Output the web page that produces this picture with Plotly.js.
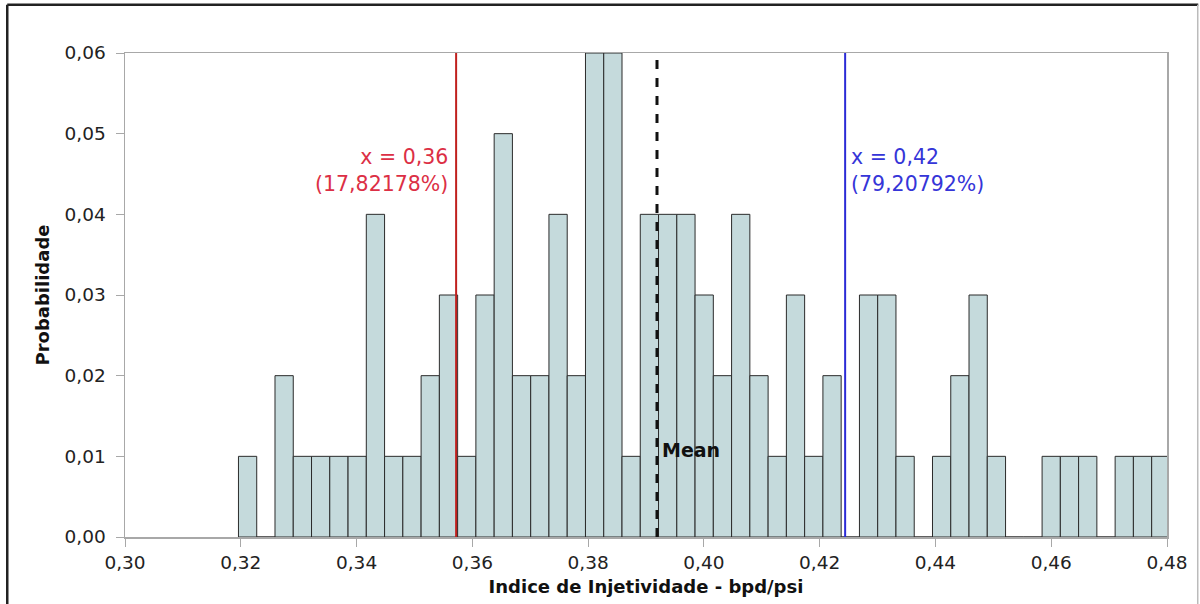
<!DOCTYPE html>
<html>
<head>
<meta charset="utf-8">
<script src="https://cdn.plot.ly/plotly-3.0.1.min.js"></script>
<style>html,body{margin:0;padding:0;background:#fff;}#chart{width:1200px;height:604px;}</style>
</head>
<body>
<div id="chart"></div>
<script>
// Histogram bins
const binStart = 0.3196;
const binWidth = 0.003155;
const probabilities = [
  0.01, 0.00, 0.02, 0.01, 0.01, 0.01, 0.01, 0.04, 0.01, 0.01,
  0.02, 0.03, 0.01, 0.03, 0.05, 0.02, 0.02, 0.04, 0.02, 0.06,
  0.06, 0.01, 0.04, 0.04, 0.04, 0.03, 0.02, 0.04, 0.02, 0.01,
  0.03, 0.01, 0.02, 0.00, 0.03, 0.03, 0.01, 0.00, 0.01, 0.02,
  0.03, 0.01, 0.00, 0.00, 0.01, 0.01, 0.01, 0.00, 0.01, 0.01,
  0.01
];
const markerNames = ["lower", "mean", "upper"];
const markerValues = [0.3572, 0.3919, 0.4244];
const lowerLabel = ["x = 0,36", "(17,82178%)"];
const upperLabel = ["x = 0,42", "(79,20792%)"];
const meanLabel = "Mean";
const xTicks = [0.30, 0.32, 0.34, 0.36, 0.38, 0.40, 0.42, 0.44, 0.46, 0.48];
const yTicks = [0.00, 0.01, 0.02, 0.03, 0.04, 0.05, 0.06];
const xTitle = "Indice de Injetividade - bpd/psi";
const yTitle = "Probabilidade";

const centers = probabilities.map((_, i) => binStart + binWidth * (i + 0.5));

const FONT = "DejaVu Sans, Liberation Sans, Arial, sans-serif";

const trace = {
  type: "bar",
  x: centers,
  y: probabilities,
  width: binWidth,
  marker: { color: "#c5dadc", line: { color: "#2b2b2b", width: 1 } },
  hoverinfo: "x+y"
};

const [lowerX, meanX, upperX] = markerValues;

const layout = {
  width: 1200,
  height: 604,
  margin: { l: 125, r: 33, t: 53, b: 67 },
  paper_bgcolor: "#ffffff",
  plot_bgcolor: "#ffffff",
  separators: ",.",
  showlegend: false,
  font: { family: FONT, size: 18, color: "#222" },
  xaxis: {
    range: [0.30, 0.48],
    tickvals: xTicks,
    tickformat: ".2f",
    ticks: "outside",
    ticklen: 8,
    tickcolor: "#a8a8a8",
    showline: true,
    linecolor: "#a8a8a8",
    linewidth: 1.5,
    mirror: true,
    showgrid: false,
    zeroline: false,
    ticklabelstandoff: 0,
    tickfont: { family: FONT, size: 18.5, color: "#222" },
    title: { text: "<b>" + xTitle + "</b>", font: { family: FONT, size: 18, color: "#111" }, standoff: 8 },
    automargin: false
  },
  yaxis: {
    range: [0, 0.06],
    tickvals: yTicks,
    tickformat: ".2f",
    ticks: "outside",
    ticklen: 8,
    tickcolor: "#a8a8a8",
    showline: true,
    linecolor: "#a8a8a8",
    linewidth: 1.5,
    mirror: true,
    showgrid: false,
    zeroline: false,
    ticklabelstandoff: 6,
    tickfont: { family: FONT, size: 18.5, color: "#222" },
    title: { text: "<b>" + yTitle + "</b>", font: { family: FONT, size: 18, color: "#111" }, standoff: 10 },
    automargin: false
  },
  shapes: [
    { type: "line", xref: "x", yref: "paper", x0: lowerX, x1: lowerX, y0: 0, y1: 1, line: { color: "#c0201e", width: 2 } },
    { type: "line", xref: "x", yref: "paper", x0: upperX, x1: upperX, y0: 0, y1: 1, line: { color: "#2b2bd6", width: 2 } },
    { type: "line", xref: "x", yref: "paper", x0: meanX, x1: meanX, y0: 0, y1: 1, line: { color: "#111", width: 3, dash: "dash" } },
    // outer frame
    { type: "line", xref: "paper", yref: "paper", x0: -0.113, x1: 1.03, y0: 1.0995, y1: 1.0995, line: { color: "#222", width: 2.5 } },
    { type: "line", xref: "paper", yref: "paper", x0: -0.113, x1: -0.113, y0: 1.0995, y1: -0.2, line: { color: "#222", width: 2.5 } },
    { type: "line", xref: "paper", yref: "paper", x0: 1.0295, x1: 1.0295, y0: 1.0995, y1: -0.2, line: { color: "#bbbbbb", width: 1.5 } }
  ],
  annotations: [
    { xref: "x", yref: "paper", x: lowerX, y: 0.815, xanchor: "right", yanchor: "top", xshift: -6, align: "right",
      text: lowerLabel.join("<br>"), showarrow: false, font: { family: FONT, size: 20.5, color: "#dc2f45" } },
    { xref: "x", yref: "paper", x: upperX, y: 0.815, xanchor: "left", yanchor: "top", xshift: 4, align: "left",
      text: upperLabel.join("<br>"), showarrow: false, font: { family: FONT, size: 20.5, color: "#3535d8" } },
    { xref: "x", yref: "y", x: meanX, y: 0.0108, xanchor: "left", yanchor: "middle", xshift: 3,
      text: "<b>" + meanLabel + "</b>", showarrow: false, font: { family: FONT, size: 19, color: "#111" } }
  ]
};

Plotly.newPlot("chart", [trace], layout, { displayModeBar: false, staticPlot: true });
</script>
</body>
</html>
